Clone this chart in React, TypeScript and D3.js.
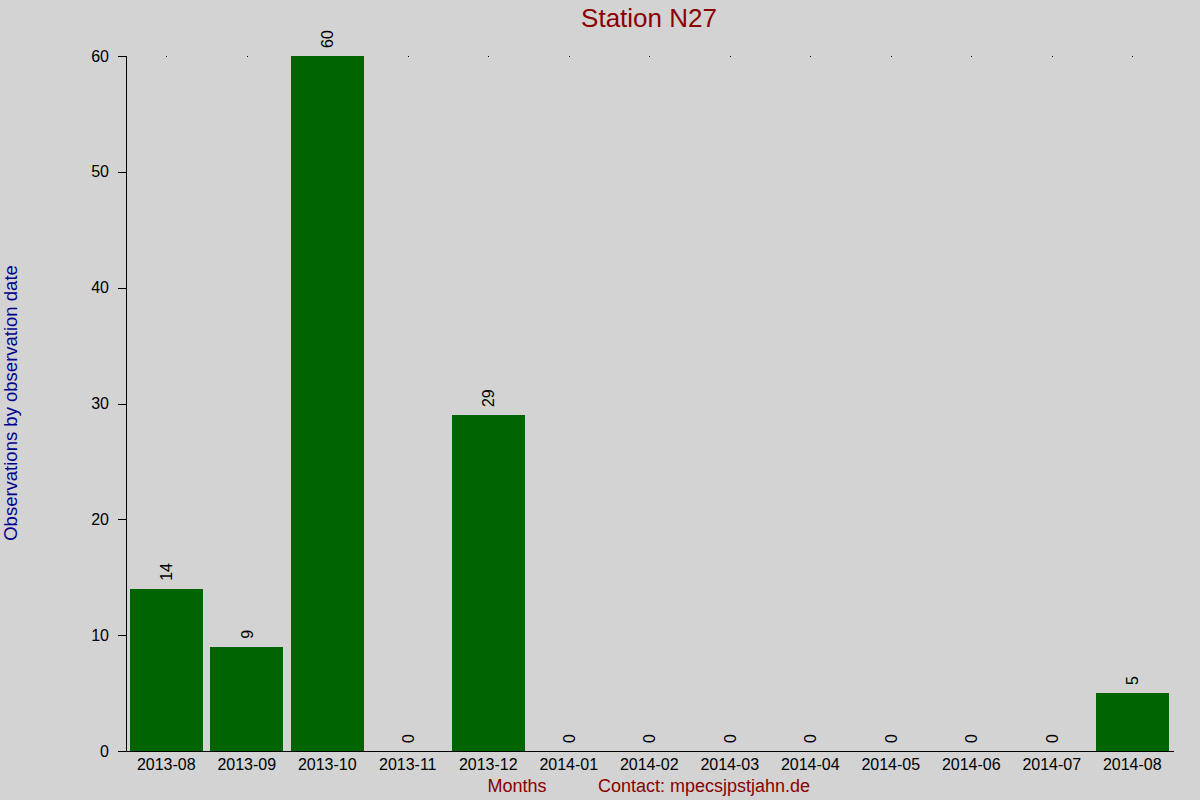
import * as d3 from "d3";

const months = [
  "2013-08", "2013-09", "2013-10", "2013-11", "2013-12", "2014-01", "2014-02",
  "2014-03", "2014-04", "2014-05", "2014-06", "2014-07", "2014-08",
];
const counts = [14, 9, 60, 0, 29, 0, 0, 0, 0, 0, 0, 0, 5];
const yTicks = [0, 10, 20, 30, 40, 50, 60];

const title = "Station N27";
const yLabel = "Observations by observation date";
const xLabel = "Months";
const contact = "Contact: mpecsjpstjahn.de";

export default function App() {
  const w = 1200;
  const h = 800;
  const left = 126;
  const right = 1172.5;
  const top = 56;
  const bottom = 751;
  const font = "Arial, 'Liberation Sans', sans-serif";

  const x = d3.scaleBand<string>().domain(months).range([left, right]).paddingInner(0.087).paddingOuter(0.0435);
  const y = d3.scaleLinear().domain([0, 60]).range([bottom, top]);
  const band = d3.scaleBand<string>().domain(months).range([left, right]);
  const cx = (m: string) => (band(m) ?? 0) + band.bandwidth() / 2;
  const px = (v: number) => Math.round(v) + 0.5;

  return (
    <div style={{ position: "absolute", left: 0, top: 0 }}>
      <svg width={w} height={h} style={{ display: "block", fontFamily: font }}>
        <rect width={w} height={h} fill="#d3d3d3" />
        <text x={649} y={27} textAnchor="middle" fontSize={26} fill="#8b0000">
          {title}
        </text>

        <g shapeRendering="crispEdges">
          {/* small marks along the top edge, hidden by tall bars */}
          {months.map((m) => (
            <rect key={"d" + m} x={Math.round(cx(m))} y={top} width={1} height={1} fill="#000" />
          ))}

          {months.map((m, i) => (
            <rect
              key={m}
              x={x(m)}
              y={y(counts[i])}
              width={x.bandwidth()}
              height={bottom - y(counts[i])}
              fill="#006400"
            />
          ))}

          <line x1={px(left)} x2={px(left)} y1={top} y2={bottom} stroke="#000" strokeWidth={1} />
          <line x1={118} x2={right + 1} y1={px(bottom)} y2={px(bottom)} stroke="#000" strokeWidth={1} />
          {yTicks.map((t) => (
            <line key={t} x1={118} x2={left} y1={px(y(t))} y2={px(y(t))} stroke="#000" strokeWidth={1} />
          ))}
        </g>

        {yTicks.map((t) => (
          <text key={"t" + t} x={109} y={y(t) + 5.5} textAnchor="end" fontSize={16} fill="#000">
            {t}
          </text>
        ))}

        {months.map((m) => (
          <text key={"l" + m} x={cx(m)} y={770} textAnchor="middle" fontSize={16} fill="#000">
            {m}
          </text>
        ))}

        {months.map((m, i) => (
          <text
            key={"v" + m}
            transform={`translate(${cx(m) + 6},${y(counts[i]) - 8}) rotate(-90)`}
            fontSize={16}
            fill="#000"
          >
            {counts[i]}
          </text>
        ))}

        <text transform="translate(17,403) rotate(-90)" textAnchor="middle" fontSize={18.5} fill="#00008b">
          {yLabel}
        </text>
        <text x={517} y={792} textAnchor="middle" fontSize={18} fill="#8b0000">
          {xLabel}
        </text>
        <text x={598} y={792} fontSize={18} fill="#8b0000" textLength={212} lengthAdjust="spacingAndGlyphs">
          {contact}
        </text>
      </svg>
    </div>
  );
}
